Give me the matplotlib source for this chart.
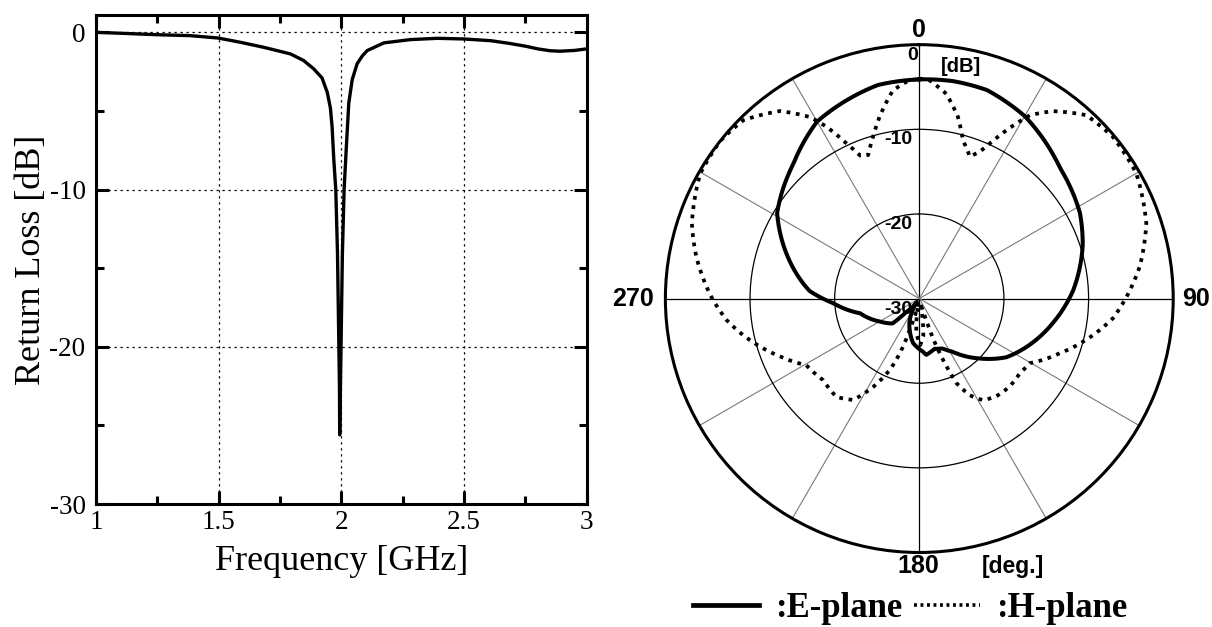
import numpy as np
import matplotlib
matplotlib.use("Agg")
import matplotlib.pyplot as plt
from matplotlib.lines import Line2D
from matplotlib.transforms import offset_copy

plt.rcParams["axes.unicode_minus"] = False
plt.rcParams["font.family"] = ["Liberation Serif", "DejaVu Serif"]

# measured return loss (S11)
freq_ghz = [1.0, 1.12, 1.248, 1.384, 1.497, 1.588, 1.683, 1.792, 1.846,
            1.887, 1.921, 1.942, 1.955, 1.962, 1.969, 1.977, 1.984, 1.988,
            1.992, 1.993, 1.996, 2.0, 2.004, 2.011, 2.02, 2.03, 2.044, 2.064,
            2.085, 2.105, 2.173, 2.282, 2.39, 2.497, 2.608, 2.683, 2.75, 2.8,
            2.85, 2.89, 2.95, 3.0]
return_loss_db = [0.0, -0.07, -0.15, -0.21, -0.36, -0.63, -0.95, -1.37,
                  -1.79, -2.32, -2.9, -3.8, -4.8, -6.0, -8.1, -10.0, -14.05,
                  -18.3, -22.5, -25.6, -22.5, -18.3, -14.05, -10.0, -7.3,
                  -4.5, -3.0, -2.0, -1.5, -1.16, -0.67, -0.46, -0.38, -0.42,
                  -0.53, -0.7, -0.88, -1.05, -1.17, -1.2, -1.15, -1.05]

# radiation pattern, E-plane
e_angle_deg = [0, 9, 18, 30, 47, 62, 72, 87, 100, 111, 124, 135, 148, 155,
               163, 173, 176, 188, 204, 215, 224, 227, 240, 256, 267, 274,
               288, 301, 317, 330, 349, 360]
e_gain_db = [-4.1, -4.0, -4.1, -5.1, -7.3, -8.5, -9.7, -11.8, -13.9, -15.6,
             -17.6, -20.0, -22.6, -23.5, -23.8, -23.3, -23.7, -24.7, -27.2,
             -29.5, -27.8, -25.7, -24.6, -22.8, -19.8, -17.0, -13.6, -10.4,
             -8.2, -5.85, -4.3, -4.1]

# radiation pattern, H-plane
h_angle_deg = [0, 2.75, 7.5, 12, 15.4, 19.6, 22.4, 24.4, 27.4, 31.1, 35.5,
               42.3, 50.1, 60, 71.7, 81.8, 88.6, 95.8, 103.9, 111.3, 120.4,
               126.7, 134.3, 141.8, 147.8, 152.4, 156.3, 159.1, 161, 163,
               168, 174, 179, 185, 191, 196, 199.6, 202.4, 207.6, 213.1,
               220.1, 229.7, 239.5, 247.4, 256.2, 263.6, 271, 280.6, 288.3,
               299.7, 308.5, 315.4, 323.4, 328.9, 331.6, 334.9, 337.5, 340.4,
               344.1, 347.7, 352.8, 356.6, 360]
h_gain_db = [-4.0, -4.2, -5.6, -8.05, -10.6, -12.2, -11.25, -9.9, -7.6, -4.7,
             -2.8, -0.7, -0.2, -0.4, -1.75, -3.7, -5.3, -7.0, -9.7, -12.2,
             -14.9, -15.2, -15.1, -15.3, -15.8, -17.1, -19.1, -22.6, -25.0,
             -28.5, -29.5, -25.5, -24.5, -26.0, -29.5, -27.0, -23.1, -20.9,
             -18.2, -15.7, -14.8, -15.1, -14.5, -12.2, -9.4, -7.1, -5.3, -3.2,
             -1.7, -0.2, 0.0, -0.4, -2.4, -4.95, -6.9, -9.8, -11.7, -12.0,
             -10.1, -8.0, -5.2, -4.35, -4.0]

ring_levels = [-20, -10]
radial_labels = ["0", "-10", "-20", "-30"]
radial_levels = [0, -10, -20, -30]
sans_bold = dict(family=["Liberation Sans", "DejaVu Sans"], weight="bold")

fig = plt.figure(figsize=(12.12, 6.27), dpi=100)

# ---- return loss vs frequency
ax = fig.add_axes([0.0792, 0.196, 0.405, 0.78])
ax.plot(freq_ghz, return_loss_db, color="black", lw=2.4,
        solid_joinstyle="round")
ax.set_xlim(1, 3)
ax.set_ylim(-30, 1.1)
ax.set_xticks([1, 1.5, 2, 2.5, 3])
ax.set_xticklabels(["1", "1.5", "2", "2.5", "3"])
ax.set_xticks([1.25, 1.75, 2.25, 2.75], minor=True)
ax.set_yticks([-30, -20, -10, 0])
ax.set_yticklabels(["-30", "-20", "-10", "0"])
ax.set_yticks([-25, -15, -5], minor=True)
ax.tick_params(which="both", direction="in", top=True, right=True, width=2.2,
               labelsize=19.5)
ax.tick_params(which="major", length=9.5)
ax.tick_params(which="minor", length=5.5)
ax.tick_params(axis="x", pad=4)
ax.tick_params(axis="y", pad=7.5)
ax.grid(True, which="major", ls=(0, (1.8, 3)), color="black", lw=0.9)
for s in ax.spines.values():
    s.set_linewidth(2.2)
ax.set_xlabel("Frequency [GHz]", fontsize=26)
ax.set_ylabel("Return Loss [dB]", fontsize=26)
ax.xaxis.set_label_coords(0.5, -0.083)
ax.yaxis.set_label_coords(-0.098, 0.5)

# ---- radiation pattern
pax = fig.add_axes([0.549, 0.1188, 0.419, 0.810], projection="polar")
pax.set_theta_zero_location("N")
pax.set_theta_direction(-1)
pax.set_ylim(-30, 0)
e_line, = pax.plot(np.radians(e_angle_deg), e_gain_db, color="black", lw=2.9,
                   solid_joinstyle="round")
h_line, = pax.plot(np.radians(h_angle_deg), h_gain_db, color="black", lw=2.7,
                   ls=(0, (1, 1.5)), dash_capstyle="butt")
# let the polar transform bend each segment instead of drawing chords
for ln in (e_line, h_line):
    ln.get_path()._interpolation_steps = 24

spoke_deg = list(range(0, 360, 30))
pax.set_xticks(np.radians(spoke_deg))
pax.set_xticklabels([])
pax.set_yticks(ring_levels)
pax.set_yticklabels([])
pax.grid(True, ls="-")
for ang, gl in zip(spoke_deg, pax.xaxis.get_gridlines()):
    if ang % 90 == 0:
        gl.set_color("black")
        gl.set_linewidth(0.9)
    else:
        gl.set_color("#7a7a7a")
        gl.set_linewidth(0.8)
for gl in pax.yaxis.get_gridlines():
    gl.set_color("black")
    gl.set_linewidth(0.9)
pax.spines["polar"].set_linewidth(2.2)

# dB scale along the 0 deg spoke
for lvl, txt in zip(radial_levels, radial_labels):
    dx = -1.5 if lvl == 0 else -7
    tr = offset_copy(pax.transData, fig=fig, x=dx, y=-10.5, units="dots")
    pax.text(0, lvl, txt, transform=tr, ha="right", va="center",
             fontsize=14, **sans_bold)

# angle labels
for ang, x, y in [(0, 0.5, 1.0295), (90, 1.0443, 0.5),
                  (180, 0.498, -0.0266), (270, -0.063, 0.5)]:
    pax.text(x, y, str(ang), transform=pax.transAxes, ha="center",
             va="center", fontsize=18, **sans_bold)
pax.text(0.5827, 0.9577, "[dB]", transform=pax.transAxes, ha="center",
         va="center", fontsize=14.5, **sans_bold)
pax.text(0.684, -0.0285, "[deg.]", transform=pax.transAxes, ha="center",
         va="center", fontsize=16.5, **sans_bold)

handles = [Line2D([], [], color="black", lw=3.4),
           Line2D([], [], color="black", lw=2.6, ls=(0, (0.8, 1.0)),
                  dash_capstyle="butt")]
fig.legend(handles, [":E-plane", ":H-plane"], loc="center",
           bbox_to_anchor=(0.751, 0.03), ncol=2, frameon=False,
           handlelength=1.9, handletextpad=0.45, columnspacing=0.35,
           borderpad=0, prop=dict(family="Liberation Serif", weight="bold",
                                  size=25))

fig.savefig("out.png", dpi=100)
